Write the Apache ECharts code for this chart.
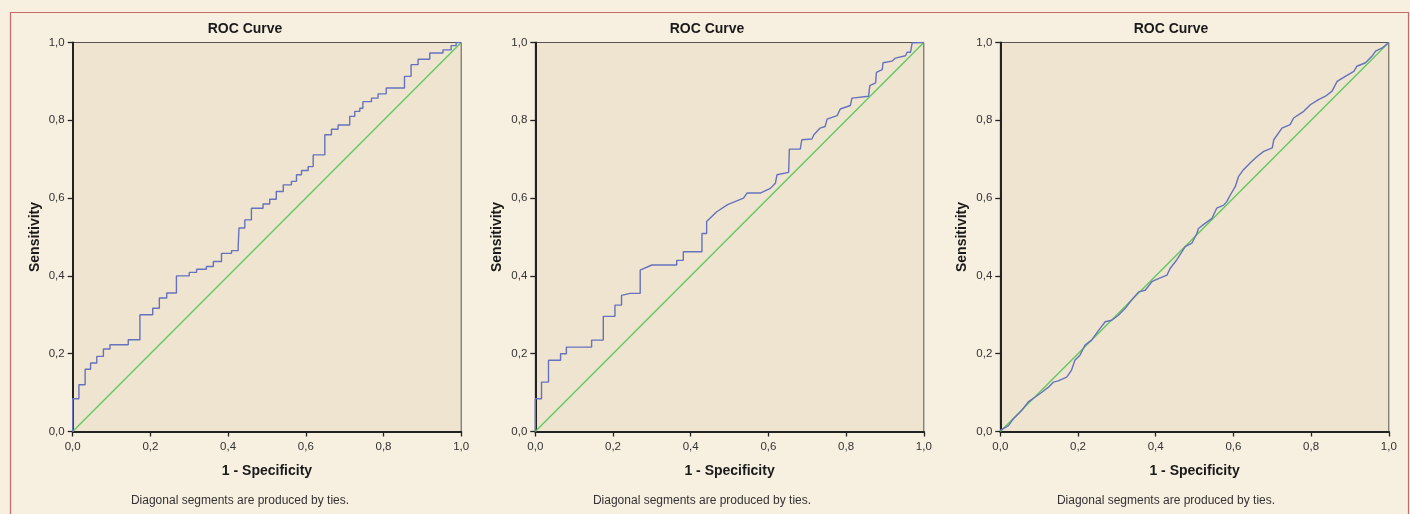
<!DOCTYPE html>
<html>
<head>
<meta charset="utf-8">
<script src="https://cdn.jsdelivr.net/npm/echarts@6/dist/echarts.min.js"></script>
<style>
html,body{margin:0;padding:0;background:#f7efe0;}
#c{width:1410px;height:514px;}
</style>
</head>
<body>
<div id="c"></div>
<script>
// ---- data ----
const titles = ["ROC Curve", "ROC Curve", "ROC Curve"];
const xName = "1 - Specificity";
const yName = "Sensitivity";
const footnote = "Diagonal segments are produced by ties.";
const tickValues = [0, 0.2, 0.4, 0.6, 0.8, 1.0];

const fpr1 = [0,0,0.016,0.016,0.032,0.032,0.046,0.046,0.062,0.062,0.079,0.079,0.096,0.096,0.143,0.143,0.173,0.173,0.206,0.206,0.223,0.223,0.242,0.242,0.267,0.267,0.300,0.300,0.319,0.319,0.344,0.344,0.362,0.362,0.383,0.383,0.409,0.409,0.426,0.426,0.428,0.428,0.443,0.443,0.460,0.460,0.490,0.490,0.507,0.507,0.524,0.524,0.542,0.542,0.563,0.563,0.576,0.576,0.589,0.589,0.606,0.606,0.619,0.619,0.649,0.649,0.666,0.666,0.683,0.683,0.713,0.713,0.726,0.726,0.739,0.739,0.747,0.747,0.769,0.769,0.786,0.786,0.807,0.807,0.854,0.854,0.871,0.871,0.889,0.889,0.919,0.919,0.953,0.953,0.974,0.974,0.987,0.987,1.0];
const tpr1 = [0,0.084,0.084,0.120,0.120,0.160,0.160,0.176,0.176,0.193,0.193,0.212,0.212,0.223,0.223,0.236,0.236,0.300,0.300,0.317,0.317,0.343,0.343,0.356,0.356,0.400,0.400,0.409,0.409,0.417,0.417,0.424,0.424,0.437,0.437,0.458,0.458,0.465,0.465,0.476,0.476,0.523,0.523,0.544,0.544,0.574,0.574,0.585,0.585,0.597,0.597,0.617,0.617,0.634,0.634,0.643,0.643,0.660,0.660,0.671,0.671,0.681,0.681,0.711,0.711,0.763,0.763,0.777,0.777,0.788,0.788,0.810,0.810,0.823,0.823,0.831,0.831,0.848,0.848,0.857,0.857,0.868,0.868,0.883,0.883,0.913,0.913,0.943,0.943,0.957,0.957,0.973,0.973,0.981,0.981,0.992,0.992,1.0,1.0];

const fpr2 = [0,0,0.016,0.016,0.034,0.034,0.065,0.065,0.080,0.080,0.145,0.145,0.175,0.175,0.205,0.205,0.222,0.222,0.244,0.270,0.270,0.300,0.338,0.364,0.364,0.381,0.381,0.429,0.429,0.441,0.441,0.467,0.495,0.536,0.545,0.579,0.605,0.618,0.622,0.652,0.654,0.682,0.686,0.712,0.717,0.733,0.746,0.751,0.777,0.785,0.811,0.815,0.858,0.861,0.876,0.878,0.893,0.895,0.918,0.927,0.953,0.957,0.966,0.970,1.0];
const tpr2 = [0,0.084,0.084,0.127,0.127,0.183,0.183,0.200,0.200,0.217,0.217,0.235,0.235,0.296,0.296,0.325,0.325,0.350,0.355,0.355,0.415,0.428,0.428,0.428,0.440,0.440,0.462,0.462,0.509,0.509,0.540,0.565,0.583,0.600,0.613,0.613,0.625,0.638,0.660,0.666,0.726,0.726,0.750,0.752,0.763,0.780,0.784,0.803,0.812,0.829,0.838,0.857,0.862,0.889,0.896,0.923,0.930,0.948,0.952,0.960,0.966,0.975,0.975,0.999,1.0];

const fpr3 = [0,0.021,0.034,0.055,0.072,0.089,0.107,0.124,0.137,0.149,0.171,0.183,0.192,0.205,0.218,0.235,0.253,0.270,0.287,0.304,0.321,0.338,0.356,0.373,0.390,0.407,0.429,0.437,0.454,0.476,0.493,0.506,0.510,0.527,0.545,0.557,0.575,0.583,0.592,0.605,0.613,0.626,0.643,0.661,0.678,0.700,0.704,0.725,0.746,0.755,0.781,0.798,0.819,0.837,0.854,0.867,0.888,0.910,0.918,0.940,0.957,0.966,0.983,1.0];
const tpr3 = [0.003,0.015,0.033,0.054,0.076,0.088,0.101,0.114,0.127,0.130,0.140,0.157,0.183,0.196,0.222,0.235,0.260,0.282,0.286,0.299,0.316,0.338,0.359,0.363,0.385,0.393,0.402,0.419,0.441,0.475,0.484,0.509,0.522,0.535,0.548,0.574,0.582,0.591,0.608,0.630,0.655,0.673,0.690,0.707,0.720,0.729,0.750,0.780,0.789,0.806,0.823,0.840,0.853,0.862,0.875,0.900,0.913,0.926,0.939,0.948,0.965,0.978,0.986,1.0];

const diagX = [0, 1];
const diagY = [0, 1];

const fprs = [fpr1, fpr2, fpr3];
const tprs = [tpr1, tpr2, tpr3];

// ---- layout / style ----
const plotLeft = [72.7, 535.3, 1000.3];
const plotW = 388.5;
const plotTop = 42.5;
const plotH = 389;
const titleCenter = [240, 702, 1166];

const zip = (a, b) => a.map((v, i) => [v, b[i]]);
const fmt = v => v.toFixed(1).replace('.', ',');

const grids = [], xAxes = [], yAxes = [], series = [], titleOpts = [], graphics = [];

graphics.push({
  type: 'rect', left: 8, top: 10, silent: true, z: -1,
  shape: { width: 1398, height: 520 },
  style: { fill: 'none', stroke: '#c86a68', lineWidth: 1.2 }
});

for (let i = 0; i < 3; i++) {
  grids.push({
    left: plotLeft[i], top: plotTop, width: plotW, height: plotH,
    show: true, backgroundColor: '#efe4cf', borderColor: '#5a5550', borderWidth: 1
  });
  xAxes.push({
    gridIndex: i, type: 'value', min: 0, max: 1, interval: 0.2,
    name: xName, nameLocation: 'middle', nameGap: 33,
    nameTextStyle: { fontFamily: 'Liberation Sans, Arial', fontWeight: 'bold', fontSize: 14, color: '#1a1a1a' },
    axisLine: { show: true, onZero: false, lineStyle: { color: '#222', width: 2 } },
    axisTick: { show: true, length: 5, lineStyle: { color: '#222', width: 1.3 } },
    axisLabel: { formatter: fmt, fontFamily: 'Liberation Sans, Arial', fontSize: 11.5, color: '#333', margin: 9 },
    splitLine: { show: false }
  });
  yAxes.push({
    gridIndex: i, type: 'value', min: 0, max: 1, interval: 0.2,
    name: yName, nameLocation: 'middle', nameGap: 31, nameRotate: 90,
    nameTextStyle: { fontFamily: 'Liberation Sans, Arial', fontWeight: 'bold', fontSize: 14, color: '#1a1a1a' },
    axisLine: { show: true, onZero: false, lineStyle: { color: '#222', width: 2 } },
    axisTick: { show: true, length: 5, lineStyle: { color: '#222', width: 1.3 } },
    axisLabel: { formatter: fmt, fontFamily: 'Liberation Sans, Arial', fontSize: 11.5, color: '#333', margin: 8 },
    splitLine: { show: false }
  });
  series.push({
    type: 'line', xAxisIndex: i, yAxisIndex: i, data: zip(diagX, diagY),
    showSymbol: false, symbol: 'none', silent: true,
    lineStyle: { color: '#5cc95c', width: 1.3 }, z: 3
  });
  series.push({
    type: 'line', xAxisIndex: i, yAxisIndex: i, data: zip(fprs[i], tprs[i]),
    showSymbol: false, symbol: 'none', silent: true,
    lineStyle: { color: '#6672bd', width: 1.4 }, z: 4
  });
  titleOpts.push({
    text: titles[i], left: titleCenter[i], top: 17, textAlign: 'center',
    textStyle: { fontFamily: 'Liberation Sans, Arial', fontWeight: 'bold', fontSize: 14, color: '#1a1a1a' }
  });
  graphics.push({
    type: 'text', x: titleCenter[i], y: 501, silent: true,
    style: { text: footnote, fill: '#333', font: '12px "Liberation Sans", Arial', textAlign: 'center', textVerticalAlign: 'middle' }
  });
}

const chart = echarts.init(document.getElementById('c'), null, { renderer: 'canvas' });
chart.setOption({
  backgroundColor: '#f7efe0',
  animation: false,
  title: titleOpts,
  grid: grids,
  xAxis: xAxes,
  yAxis: yAxes,
  series: series,
  graphic: graphics
});
</script>
</body>
</html>
